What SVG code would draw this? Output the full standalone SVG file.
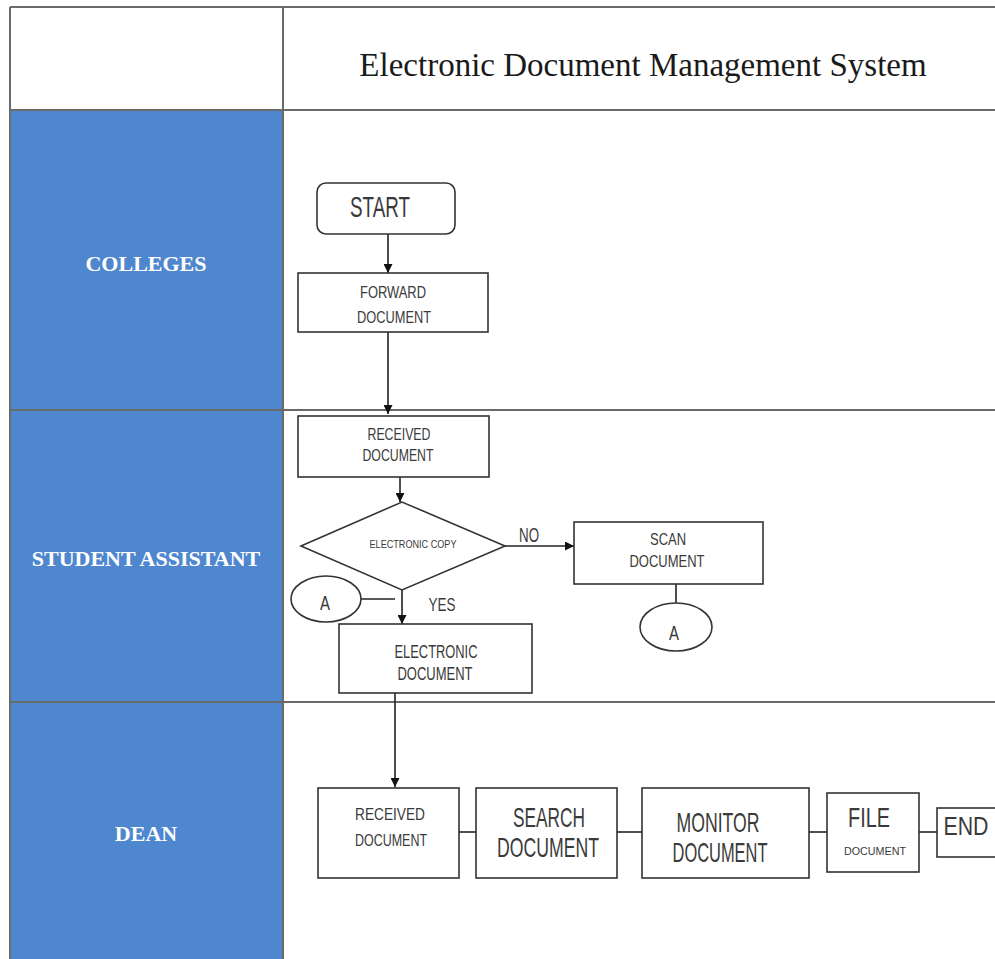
<svg xmlns="http://www.w3.org/2000/svg" width="995" height="959" viewBox="0 0 995 959">
<defs>
<marker id="arr" viewBox="0 0 10 10" refX="10" refY="5" markerWidth="9" markerHeight="9" markerUnits="userSpaceOnUse" orient="auto">
<path d="M0,0 L10,5 L0,10 z" fill="#111"/>
</marker>
</defs>
<style>
.lane{fill:#4F87CF}
.grid{stroke:#6a6a6a;stroke-width:2;fill:none}
.box{fill:#fff;stroke:#333;stroke-width:1.6}
.t{font-family:"Liberation Sans",Arial,sans-serif;fill:#3a3a3a;text-anchor:middle}
.lt{font-family:"Liberation Serif","Times New Roman",serif;font-weight:bold;fill:#fff;text-anchor:middle;font-size:22px}
.c{stroke:#222;stroke-width:1.6;fill:none}
</style>
<rect width="995" height="959" fill="#fff"/>
<g id="lanes">
<rect class="lane" x="10" y="110" width="272" height="849"/>
<line class="grid" x1="10" y1="7" x2="995" y2="7"/>
<line class="grid" x1="10" y1="110" x2="995" y2="110"/>
<line class="grid" x1="10" y1="410" x2="995" y2="410"/>
<line class="grid" x1="10" y1="702" x2="995" y2="702"/>
<line class="grid" x1="10" y1="7" x2="10" y2="959"/>
<line class="grid" x1="283" y1="7" x2="283" y2="959"/>
<text x="643" y="76" font-family="Liberation Serif,'Times New Roman',serif" font-size="33" fill="#1a1a1a" text-anchor="middle">Electronic Document Management System</text>
<text class="lt" x="146" y="271">COLLEGES</text>
<text class="lt" x="146" y="566">STUDENT ASSISTANT</text>
<text class="lt" x="146" y="841">DEAN</text>
</g>
<g id="connectors">
<line class="c" x1="388" y1="234" x2="388" y2="273" marker-end="url(#arr)"/>
<line class="c" x1="388" y1="332" x2="388" y2="414" marker-end="url(#arr)"/>
<line class="c" x1="400" y1="477" x2="400" y2="502" marker-end="url(#arr)"/>
<line class="c" x1="505" y1="546" x2="574" y2="546" marker-end="url(#arr)"/>
<line class="c" x1="402" y1="590" x2="402" y2="624" marker-end="url(#arr)"/>
<line class="c" x1="361" y1="599" x2="395" y2="599"/>
<line class="c" x1="676" y1="584" x2="676" y2="603"/>
<line class="c" x1="395" y1="693" x2="395" y2="787" marker-end="url(#arr)"/>
<line class="c" x1="459" y1="832" x2="476" y2="832"/>
<line class="c" x1="617" y1="832" x2="642" y2="832"/>
<line class="c" x1="809" y1="832" x2="827" y2="832"/>
<line class="c" x1="919" y1="832" x2="937" y2="832"/>
<text class="t" x="529" y="542" font-size="20" textLength="20" lengthAdjust="spacingAndGlyphs">NO</text>
<text class="t" x="442" y="611" font-size="19" textLength="27" lengthAdjust="spacingAndGlyphs">YES</text>
</g>
<g id="start">
<rect class="box" x="317" y="183" width="138" height="51" rx="9"/>
<text class="t" x="380" y="217" font-size="30" textLength="60" lengthAdjust="spacingAndGlyphs">START</text>
</g>
<g id="forward">
<rect class="box" x="298" y="273" width="190" height="59"/>
<text class="t" x="393" y="298" font-size="17" textLength="66" lengthAdjust="spacingAndGlyphs">FORWARD</text>
<text class="t" x="394" y="323" font-size="17" textLength="74" lengthAdjust="spacingAndGlyphs">DOCUMENT</text>
</g>
<g id="received1">
<rect class="box" x="298" y="416" width="191" height="61"/>
<text class="t" x="399" y="440" font-size="17" textLength="63" lengthAdjust="spacingAndGlyphs">RECEIVED</text>
<text class="t" x="398" y="461" font-size="17" textLength="71" lengthAdjust="spacingAndGlyphs">DOCUMENT</text>
</g>
<g id="decision">
<polygon class="box" points="301,546 402,502 505,546 402,590"/>
<text class="t" x="413" y="548" font-size="10" textLength="87" lengthAdjust="spacingAndGlyphs">ELECTRONIC COPY</text>
</g>
<g id="scan">
<rect class="box" x="574" y="522" width="189" height="62"/>
<text class="t" x="668" y="545" font-size="17" textLength="36" lengthAdjust="spacingAndGlyphs">SCAN</text>
<text class="t" x="667" y="567" font-size="17" textLength="75" lengthAdjust="spacingAndGlyphs">DOCUMENT</text>
</g>
<g id="connA2">
<ellipse class="box" cx="676" cy="627" rx="36" ry="24"/>
<text class="t" x="674" y="640" font-size="20" textLength="10" lengthAdjust="spacingAndGlyphs">A</text>
</g>
<g id="connA1">
<ellipse class="box" cx="326" cy="599" rx="35" ry="23"/>
<text class="t" x="325" y="610" font-size="20" textLength="10" lengthAdjust="spacingAndGlyphs">A</text>
</g>
<g id="electronic">
<rect class="box" x="339" y="624" width="193" height="69"/>
<text class="t" x="436" y="658" font-size="18" textLength="83" lengthAdjust="spacingAndGlyphs">ELECTRONIC</text>
<text class="t" x="435" y="680" font-size="18" textLength="75" lengthAdjust="spacingAndGlyphs">DOCUMENT</text>
</g>
<g id="received2">
<rect class="box" x="318" y="788" width="141" height="90"/>
<text class="t" x="390" y="820" font-size="17" textLength="70" lengthAdjust="spacingAndGlyphs">RECEIVED</text>
<text class="t" x="391" y="846" font-size="17" textLength="72" lengthAdjust="spacingAndGlyphs">DOCUMENT</text>
</g>
<g id="search">
<rect class="box" x="476" y="788" width="141" height="90"/>
<text class="t" x="549" y="827" font-size="28" textLength="72" lengthAdjust="spacingAndGlyphs">SEARCH</text>
<text class="t" x="548" y="857" font-size="28" textLength="102" lengthAdjust="spacingAndGlyphs">DOCUMENT</text>
</g>
<g id="monitor">
<rect class="box" x="642" y="788" width="167" height="90"/>
<text class="t" x="718" y="832" font-size="28" textLength="83" lengthAdjust="spacingAndGlyphs">MONITOR</text>
<text class="t" x="720" y="862" font-size="28" textLength="95" lengthAdjust="spacingAndGlyphs">DOCUMENT</text>
</g>
<g id="file">
<rect class="box" x="827" y="793" width="92" height="79"/>
<text class="t" x="869" y="827" font-size="27" textLength="42" lengthAdjust="spacingAndGlyphs">FILE</text>
<text class="t" x="875" y="855" font-size="10" textLength="62" lengthAdjust="spacingAndGlyphs">DOCUMENT</text>
</g>
<g id="end">
<rect class="box" x="937" y="808" width="63" height="49"/>
<text class="t" x="966" y="835" font-size="25" textLength="45" lengthAdjust="spacingAndGlyphs">END</text>
</g>
</svg>
